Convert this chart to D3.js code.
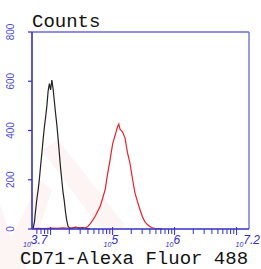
<!DOCTYPE html>
<html><head><meta charset="utf-8">
<script src="https://cdn.jsdelivr.net/npm/d3@7"></script>
<style>html,body{margin:0;padding:0;background:#fff;}svg{display:block;}</style>
</head><body>
<script>
// ---- data (log10 fluorescence, counts) ----
const blackLog = [3.70,3.72,3.74,3.76,3.78,3.80,3.82,3.84,3.86,3.88,3.90,3.92,3.94,3.96,3.98,4.00,4.02,4.04,4.06,4.08,4.10,4.12,4.14,4.16,4.18,4.20,4.22,4.24,4.26,4.28,4.30,4.34,4.40,4.46,4.52,4.58,4.64];
const blackCounts = [0,5,30,80,125,160,205,260,310,365,415,455,500,560,590,565,605,570,520,470,425,370,310,250,200,150,115,70,35,12,5,3,8,4,6,2,0];
const redLog = [3.70,3.80,3.90,4.00,4.10,4.20,4.30,4.40,4.50,4.56,4.60,4.64,4.68,4.72,4.76,4.80,4.84,4.88,4.92,4.96,5.00,5.04,5.08,5.10,5.12,5.16,5.20,5.24,5.28,5.32,5.36,5.40,5.44,5.48,5.52,5.56,5.60,5.64,5.68,5.74,5.80];
const redCounts = [2,3,2,4,3,5,3,6,4,4,10,22,36,52,72,92,125,160,225,282,345,380,415,426,405,395,370,310,268,205,148,112,80,50,30,18,10,5,3,2,0];
const yTicks = [0,200,400,600,800];
const xLabels = [{v:3.7,e:"3.7"},{v:5,e:"5"},{v:6,e:"6"},{v:7.2,e:"7.2"}];

const W=261,H=269;
const m={l:32,t:32,r:249,b:229};
const svg=d3.select("body").append("svg").attr("width",W).attr("height",H);

// faint watermark
const wm=svg.append("g").attr("fill","#e04040").attr("opacity",0.05);
wm.append("path").attr("d","M0,205 L22,269 L0,269 Z");
wm.append("path").attr("d","M42,150 L58,140 L125,225 L108,240 Z");
wm.append("path").attr("d","M5,250 L40,180 L52,190 L25,269 Z");

const x=d3.scaleLinear().domain([3.7,7.2]).range([m.l,m.r]);
const y=d3.scaleLinear().domain([0,800]).range([m.b,m.t]);

const line=d3.line().x(d=>x(d[0])).y(d=>y(d[1]));
svg.append("path").datum(d3.zip(blackLog,blackCounts)).attr("d",line)
  .attr("fill","none").attr("stroke","#222").attr("stroke-width",1.2);
svg.append("path").datum(d3.zip(redLog,redCounts)).attr("d",line)
  .attr("fill","none").attr("stroke","#e8202a").attr("stroke-width",1.2);

// frame
svg.append("line").attr("x1",m.l).attr("x2",m.r).attr("y1",m.t).attr("y2",m.t).attr("stroke","#6a6ad6").attr("stroke-width",1.5);
svg.append("line").attr("x1",m.r).attr("x2",m.r).attr("y1",m.t).attr("y2",m.b).attr("stroke","#7a7ad8").attr("stroke-width",1.5);
svg.append("line").attr("x1",m.l).attr("x2",m.l).attr("y1",m.t).attr("y2",m.b).attr("stroke","#3030c8").attr("stroke-width",1.6);
svg.append("line").attr("x1",m.l).attr("x2",m.r).attr("y1",m.b).attr("y2",m.b).attr("stroke","#3030c8").attr("stroke-width",1.6);

// y ticks
const yg=svg.append("g");
yTicks.forEach(t=>{
  yg.append("line").attr("x1",m.l-4).attr("x2",m.l).attr("y1",y(t)).attr("y2",y(t)).attr("stroke","#3030c8").attr("stroke-width",1.2);
  yg.append("text").attr("transform",`translate(14,${y(t)}) rotate(-90)`)
    .attr("text-anchor","middle").attr("font-family","Liberation Sans, Arial").attr("font-size",10)
    .attr("fill","#4a4ad0").text(t);
});

// x ticks (log minor/major)
const xg=svg.append("g");
for(let n=3;n<=7;n++){
  for(let k=1;k<=9;k++){
    const v=n+Math.log10(k);
    if(v<3.7-1e-9||v>7.2+1e-9) continue;
    const major=k===1;
    xg.append("line").attr("x1",x(v)).attr("x2",x(v))
      .attr("y1",m.b-(major?2:0)).attr("y2",m.b+(major?6:5))
      .attr("stroke","#3030c8").attr("stroke-width",1);
  }
}
xLabels.forEach((d,i)=>{
  const last=i===xLabels.length-1;
  const t=xg.append("text").attr("x",last?W-1:x(d.v)).attr("y",247)
    .attr("font-family","Liberation Sans, Arial").attr("font-style","italic")
    .attr("fill","#3030c0").attr("text-anchor",last?"end":"start");
  t.append("tspan").attr("font-size",7).attr("dx",last?0:-9).text("10");
  t.append("tspan").attr("font-size",12).attr("dy",-3).text(d.e);
});

// titles
svg.append("text").attr("x",32).attr("y",27).attr("font-family","Liberation Mono, monospace")
  .attr("font-size",19).attr("fill","#111").text("Counts");
svg.append("text").attr("x",20).attr("y",264).attr("font-family","Liberation Mono, monospace")
  .attr("font-size",19).attr("fill","#111").text("CD71-Alexa Fluor 488");
</script>
</body></html>
